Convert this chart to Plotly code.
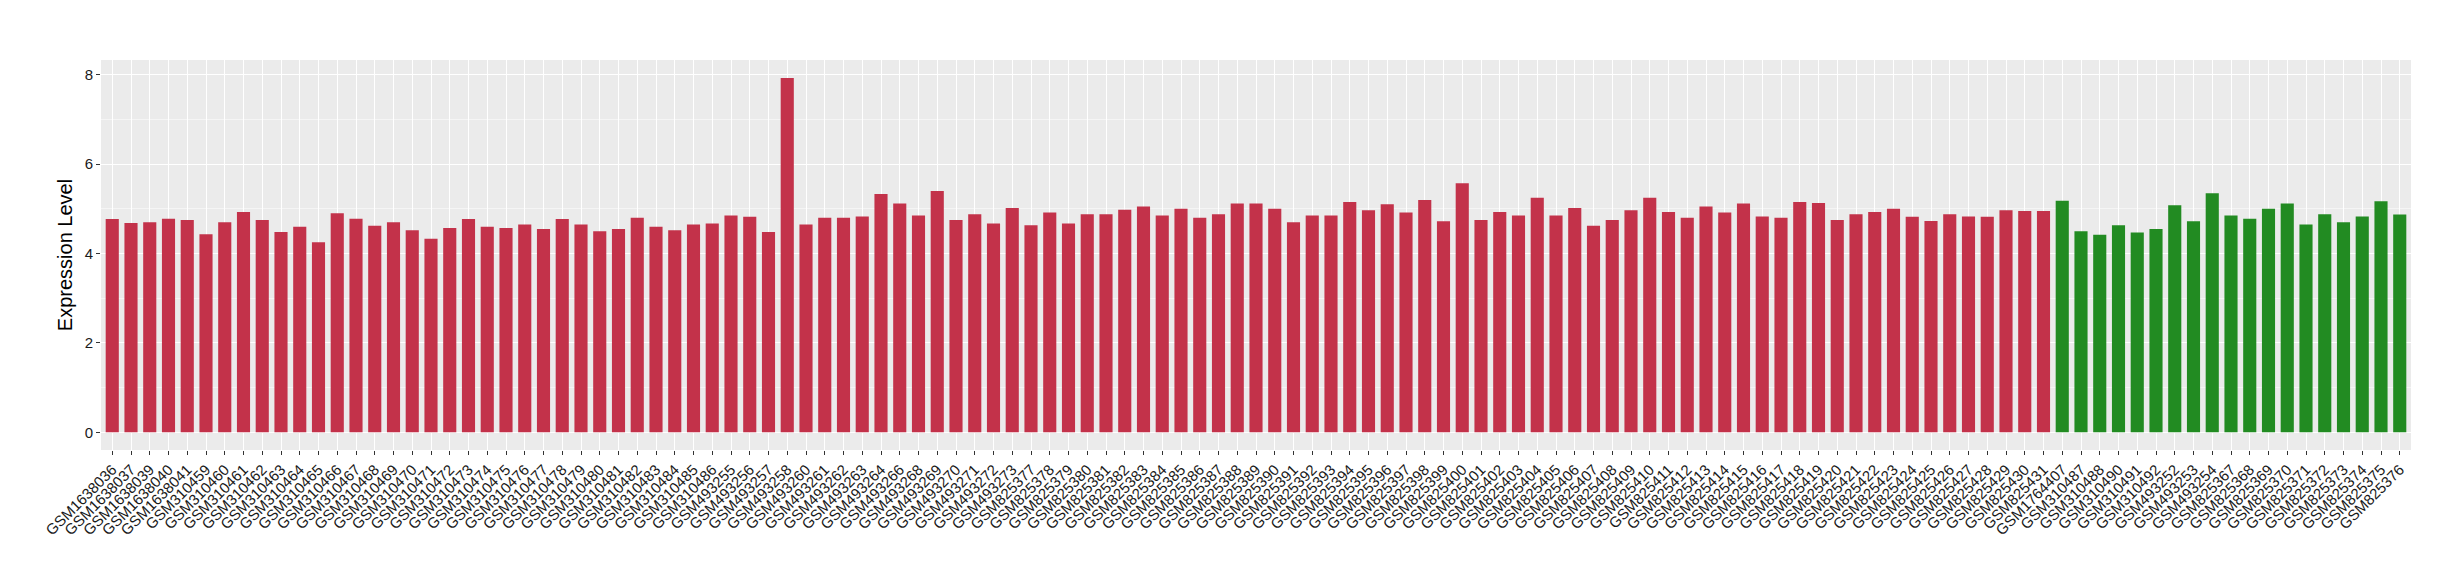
import plotly.graph_objects as go

red_samples = (
    ["GSM1638036", "GSM1638037", "GSM1638039", "GSM1638040", "GSM1638041"]
    + ["GSM%d" % n for n in range(310459, 310487)]
    + ["GSM493255", "GSM493256", "GSM493257", "GSM493258", "GSM493260", "GSM493261",
       "GSM493262", "GSM493263", "GSM493264", "GSM493266", "GSM493268", "GSM493269",
       "GSM493270", "GSM493271", "GSM493272", "GSM493273"]
    + ["GSM%d" % n for n in range(825377, 825432)]
)
red_values = [
    4.77, 4.68, 4.70, 4.78, 4.75,
    4.43, 4.70, 4.93, 4.75, 4.48, 4.60, 4.25, 4.90, 4.78, 4.62, 4.70, 4.52, 4.33, 4.57,
    4.77, 4.60, 4.57, 4.65, 4.55, 4.77, 4.65, 4.50, 4.55, 4.80, 4.60, 4.52, 4.65, 4.67,
    4.85, 4.82, 4.48, 7.93, 4.65, 4.80, 4.80, 4.83, 5.33, 5.12, 4.85, 5.40, 4.75, 4.88,
    4.67, 5.02,
    4.63, 4.92, 4.67, 4.88, 4.88, 4.98, 5.05, 4.85, 5.00, 4.80, 4.88, 5.12, 5.12, 5.00,
    4.70, 4.85, 4.85, 5.15, 4.97, 5.10, 4.92, 5.20, 4.72, 5.57, 4.75, 4.93, 4.85, 5.25,
    4.85, 5.02, 4.62, 4.75, 4.97, 5.25, 4.93, 4.80, 5.05, 4.92, 5.12, 4.83, 4.80, 5.15,
    5.13, 4.75, 4.88, 4.93, 5.00, 4.82, 4.73, 4.88, 4.83, 4.82, 4.97, 4.95, 4.95,
]

green_samples = (
    ["GSM1764407", "GSM310487", "GSM310488", "GSM310490", "GSM310491", "GSM310492",
     "GSM493252", "GSM493253", "GSM493254"]
    + ["GSM%d" % n for n in range(825367, 825377)]
)
green_values = [
    5.18, 4.50, 4.42, 4.63, 4.47, 4.55, 5.08, 4.72, 5.35,
    4.85, 4.78, 5.00, 5.12, 4.65, 4.88, 4.70, 4.83, 5.17, 4.87,
]

y_ticks = [0, 2, 4, 6, 8]
RED = "#C3324A"
GREEN = "#228B22"

categories = red_samples + green_samples
n = len(categories)

fig = go.Figure()
fig.add_trace(go.Bar(x=red_samples, y=red_values, marker_color=RED,
                     marker_line_width=0, width=0.7, showlegend=False))
fig.add_trace(go.Bar(x=green_samples, y=green_values, marker_color=GREEN,
                     marker_line_width=0, width=0.7, showlegend=False))

font_family = "Liberation Sans, Arial, sans-serif"
fig.update_layout(
    template="none",
    width=2460, height=580,
    margin=dict(l=93, r=57, t=52, b=138, autoexpand=False),
    paper_bgcolor="white",
    plot_bgcolor="#EBEBEB",
    font=dict(family=font_family, color="black"),
    barmode="overlay",
    xaxis=dict(
        type="category",
        categoryorder="array", categoryarray=categories,
        range=[-0.6, n - 1 + 0.6],
        tickangle=-45,
        tickfont=dict(size=15, color="#1a1a1a"),
        showgrid=True, gridcolor="white", gridwidth=1.2,
        ticks="outside", ticklen=4, tickcolor="#333333",
        zeroline=False, showline=False, automargin=False,
    ),
    yaxis=dict(
        range=[-0.397, 8.33],
        tickvals=y_ticks,
        tickfont=dict(size=15, color="#1a1a1a"),
        showgrid=True, gridcolor="white", gridwidth=1.2,
        minor=dict(tickvals=[1, 3, 5, 7], showgrid=True, gridcolor="#F5F5F5", gridwidth=0.6),
        ticks="outside", ticklen=4, tickcolor="#333333",
        zeroline=False, showline=False, automargin=False,
        title=dict(text="Expression Level", font=dict(size=20, color="black"), standoff=6),
    ),
)

fig.write_html("out.html")
